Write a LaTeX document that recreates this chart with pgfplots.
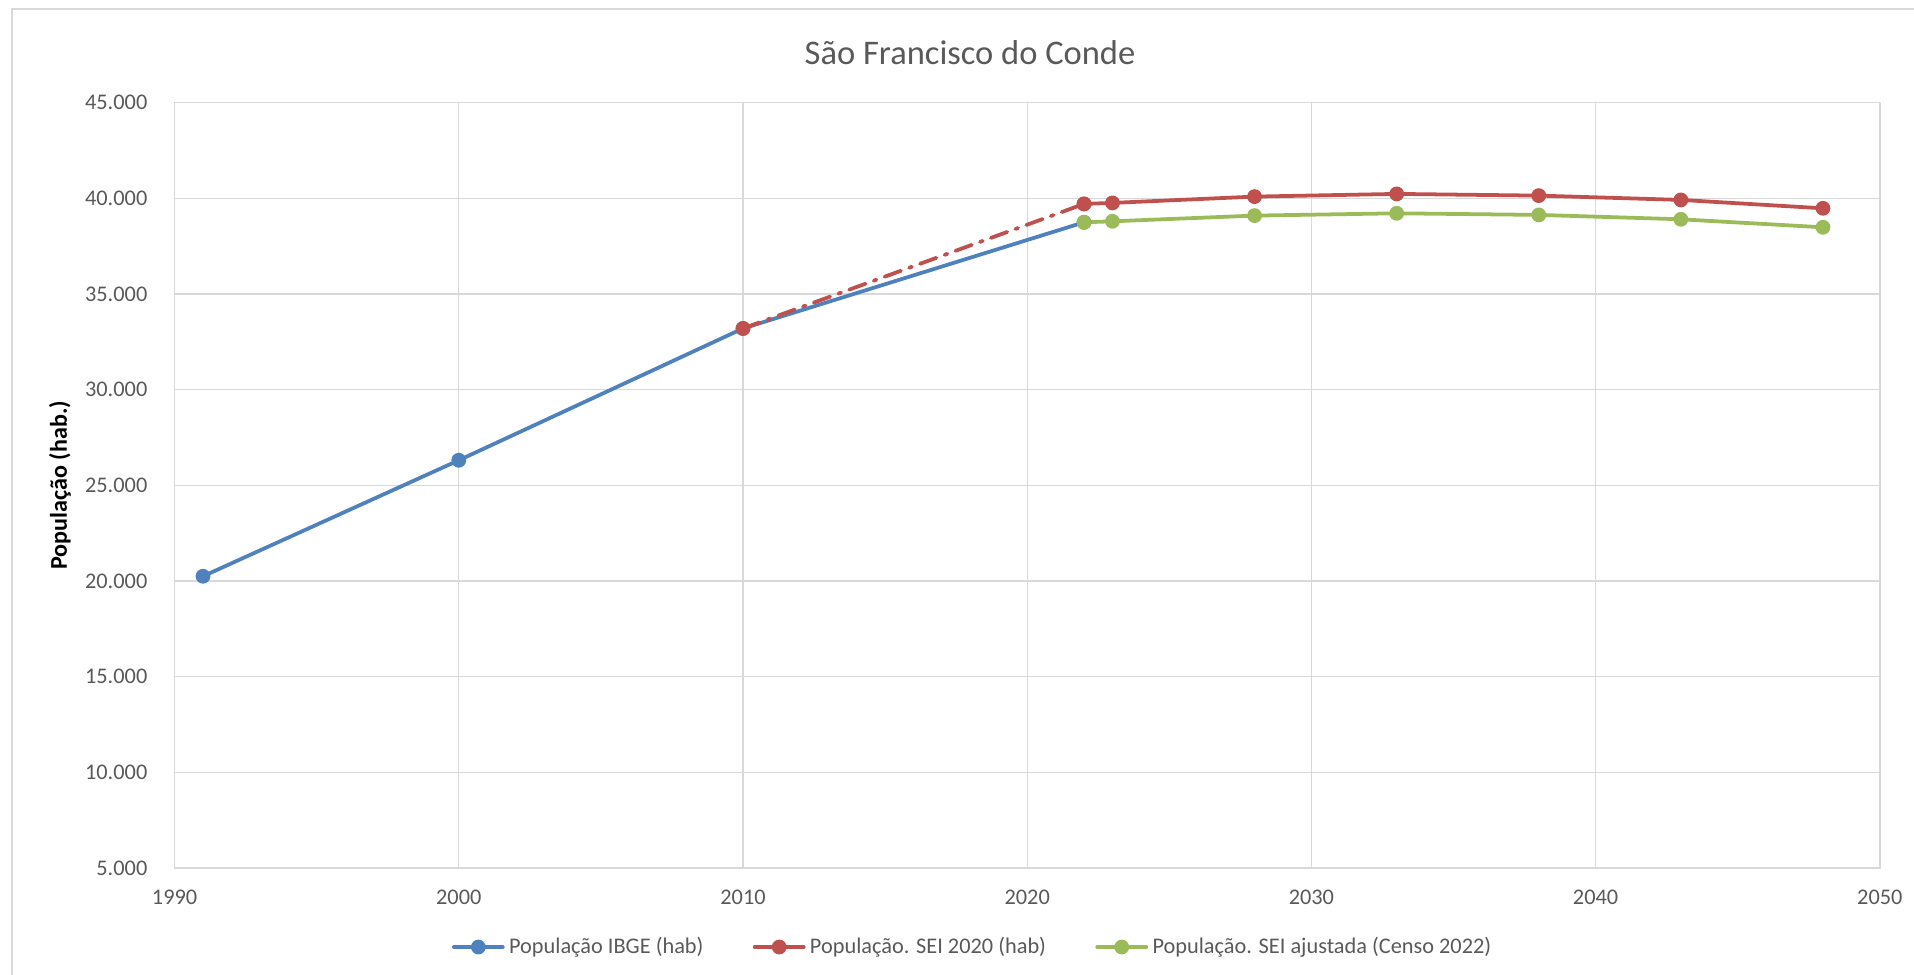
\documentclass[border=0pt]{standalone}
\usepackage{fontspec}
\setmainfont{Carlito}
\usepackage{pgfplots}
\pgfplotsset{compat=1.18}
\definecolor{cblue}{HTML}{4F81BD}
\definecolor{cred}{HTML}{C0504D}
\definecolor{cgreen}{HTML}{9BBB59}
\definecolor{gridc}{HTML}{D9D9D9}
\definecolor{txt}{HTML}{595959}
\begin{document}
\begin{tikzpicture}
\path[use as bounding box] (0,0) rectangle (660pt,336.2pt);
\draw[gridc, line width=0.9pt] (4.1pt,0) -- (4.1pt,333.1pt) -- (660pt,333.1pt);
\begin{axis}[
  at={(60.2pt,36.9pt)}, anchor=south west,
  scale only axis, width=588pt, height=263.9pt,
  xmin=1990, xmax=2050, ymin=5000, ymax=45000,
  xtick distance=10, ytick distance=5000,
  scaled y ticks=false, scaled x ticks=false,
  grid=major, major grid style={gridc, line width=0.4pt},
  axis line style={gridc, line width=0.5pt},
  major tick length=0pt, tick style={draw=none},
  /pgf/number format/assume math mode=true,
  y tick label style={/pgf/number format/1000 sep={.}, anchor=east, inner sep=0pt, xshift=-9.2pt},
  x tick label style={/pgf/number format/1000 sep={}, anchor=center, inner sep=0pt, yshift=-10pt},
  tick label style={font=\fontsize{7.7}{9}\selectfont, text=txt},
  title={São Francisco do Conde},
  every axis title/.style={at={(axis description cs:0.4665,1.0655)}, anchor=center, font=\fontsize{11.9}{14}\selectfont, text=txt, inner sep=0pt},
  ylabel={População (hab.)},
  ylabel style={at={(axis description cs:-0.0672,0.5)}, anchor=center, font=\fontsize{8.3}{10}\selectfont\bfseries, text=black, inner sep=0pt},
  legend style={at={(axis description cs:0.4687,-0.1033)}, anchor=center, draw=none, fill=none,
    font=\fontsize{7.7}{9}\selectfont, text=txt,
    nodes={inner sep=1.5pt},
    /tikz/every even column/.append style={column sep=15.5pt}},
  legend columns=3, legend cell align=left,
  legend image code/.code={\draw[#1, mark repeat=2, mark phase=2] plot coordinates {(0pt,0pt) (8.45pt,0pt) (16.9pt,0pt)};},
  every axis plot/.append style={line width=1.3pt, line join=round, line cap=round, mark=*, mark size=2.3pt},
]
\addplot[cblue, mark options={solid, fill=cblue, draw=cblue, line width=0.5pt}] coordinates {(1991,20247) (2000,26308) (2010,33198) (2022,38746)};
\addlegendentry{População IBGE (hab)}
\addplot[cred, forget plot, dash pattern=on 6pt off 3pt on 1pt off 3pt, mark options={solid, fill=cred, draw=cred, line width=0.5pt}] coordinates {(2010,33198) (2022,39707)};
\addplot[cred, mark options={solid, fill=cred, draw=cred, line width=0.5pt}] coordinates {(2022,39707) (2023,39760) (2028,40089) (2033,40230) (2038,40141) (2043,39916) (2048,39477)};
\addlegendentry{População. SEI 2020 (hab)}
\addplot[cgreen, mark options={solid, fill=cgreen, draw=cgreen, line width=0.5pt}] coordinates {(2022,38746) (2023,38798) (2028,39096) (2033,39216) (2038,39133) (2043,38903) (2048,38485)};
\addlegendentry{População. SEI ajustada (Censo 2022)}
\end{axis}
\end{tikzpicture}
\end{document}
